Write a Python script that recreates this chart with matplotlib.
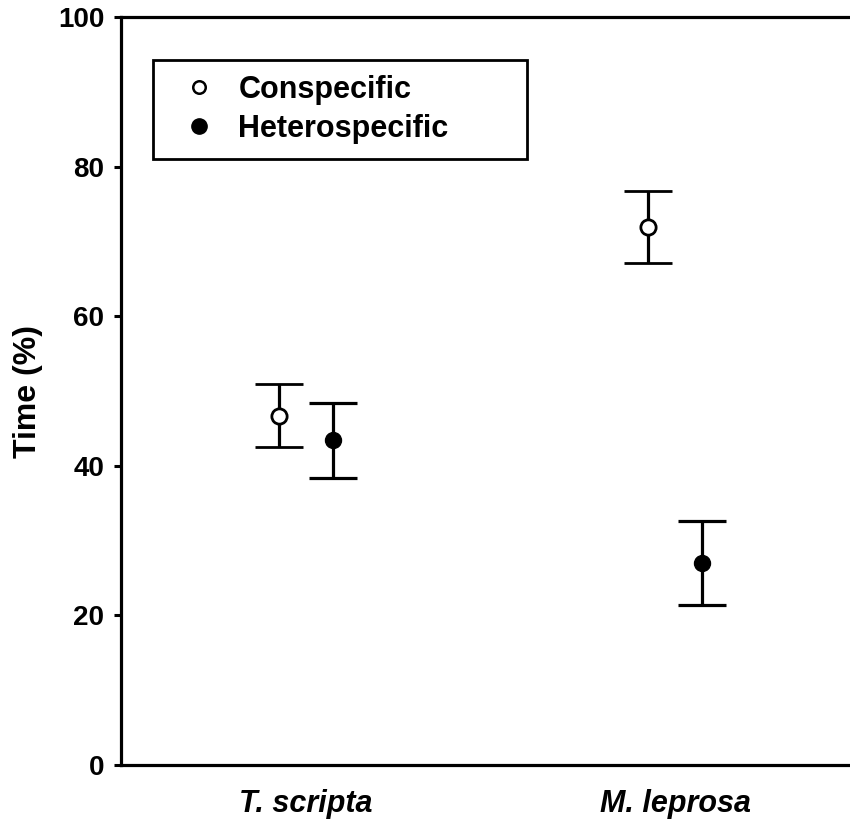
import matplotlib.pyplot as plt
from matplotlib.lines import Line2D
import numpy as np

plt.rcParams['font.family'] = ['Liberation Sans', 'DejaVu Sans']
plt.rcParams['font.weight'] = 'bold'

species = ['T. scripta', 'M. leprosa']
con_mean = [46.7, 71.9]
con_err = [4.2, 4.8]
het_mean = [43.4, 27.0]
het_err = [5.0, 5.6]

fig = plt.figure(figsize=(8.5, 8.19), dpi=100)
ax = fig.add_axes([121 / 850, (819 - 765) / 819, 739 / 850, 748 / 819])

x = np.arange(1, len(species) + 1)
off = 0.073
ax.errorbar(x - off, con_mean, yerr=con_err, fmt='o', color='black', mfc='white',
            mec='black', mew=2, ms=11, elinewidth=2.3, capsize=17, capthick=2.3, zorder=3)
ax.errorbar(x + off, het_mean, yerr=het_err, fmt='o', color='black', mfc='black',
            mec='black', ms=11.5, elinewidth=2.3, capsize=17, capthick=2.3, zorder=3)

ax.set_xlim(0.5, 2.5)
ax.set_ylim(0, 100)
ax.set_yticks([0, 20, 40, 60, 80, 100])
ax.set_xticks(x)
ax.set_xticklabels(species, fontstyle='italic', fontsize=22, fontweight='bold')
ax.tick_params(axis='x', length=0, pad=17)
ax.tick_params(axis='y', length=5, width=2.2, pad=7, labelsize=20)
for s in ax.spines.values():
    s.set_linewidth(2.3)
ax.set_ylabel('Time (%)', fontsize=23, fontweight='bold', va='center')
ax.yaxis.set_label_coords(-0.126, 0.5)

handles = [Line2D([], [], ls='none', marker='o', mfc='white', mec='black', mew=1.8, ms=9),
           Line2D([], [], ls='none', marker='o', mfc='black', mec='black', ms=11)]
leg = ax.legend(handles, ['Conspecific', 'Heterospecific'], loc='upper left',
                bbox_to_anchor=(0.043, 0.943, 0.506, 0.0), mode='expand', fancybox=False,
                framealpha=1, edgecolor='black', fontsize=22, borderpad=0.5,
                handletextpad=0.3, labelspacing=0.3, borderaxespad=0, handlelength=2.0)
leg.get_frame().set_linewidth(2)
leg.get_frame().set_boxstyle('square', pad=0)

fig.savefig('out.png', dpi=100)
